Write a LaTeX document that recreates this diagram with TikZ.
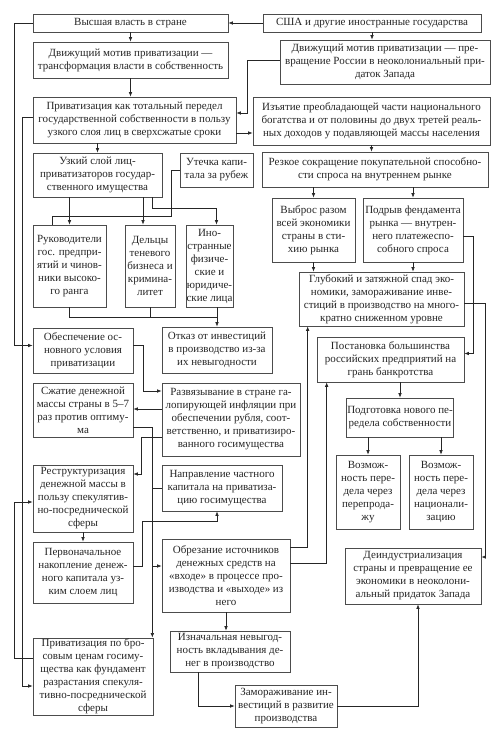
\documentclass[tikz,border=0pt]{standalone}
\usepackage{fontspec}
\setmainfont{Liberation Serif}
\usetikzlibrary{arrows.meta,calc}
\begin{document}
\begin{tikzpicture}[x=1pt,y=-1pt,
  box/.style={draw=black!70, line width=0.7pt, align=center, inner xsep=0.5pt, inner ysep=1pt,
    font=\fontsize{11}{13}\selectfont, text=black!85},
  arr/.style={draw=black!85, line width=0.65pt, -{Latex[length=4.5pt,width=3.6pt]}},
  ln/.style={draw=black!85, line width=0.65pt}]
\useasboundingbox[fill=white] (0,0) rectangle (492,730);

\node[box,minimum width=195pt,minimum height=18pt] (A) at (130.5,23) {Высшая власть в стране};
\node[box,minimum width=218pt,minimum height=18pt] (B) at (372,23) {США и другие иностранные государства};
\node[box,minimum width=195pt,minimum height=36pt] (C) at (130.5,60) {Движущий мотив приватизации —\\трансформация власти в собственность};
\node[box,minimum width=210pt,minimum height=44pt] (D) at (385,62) {Движущий мотив приватизации — пре-\\вращение России в неоколониальный при-\\даток Запада};
\node[box,minimum width=203pt,minimum height=46pt] (E) at (134.5,120) {Приватизация как тотальный передел\\государственной собственности в пользу\\узкого слоя лиц в сверхсжатые сроки};
\node[box,minimum width=237pt,minimum height=48pt] (F) at (371.5,121) {Изъятие преобладающей части национального\\богатства и от половины до двух третей реаль-\\ных доходов у подавляющей массы населения};
\node[box,minimum width=129pt,minimum height=44pt] (G) at (97.5,175) {Узкий слой лиц-\\приватизаторов государ-\\ственного имущества};
\node[box,minimum width=73pt,minimum height=34pt] (H) at (216.5,170) {Утечка капи-\\тала за рубеж};
\node[box,minimum width=226pt,minimum height=35pt] (I) at (375,169.5) {Резкое сокращение покупательной способно-\\сти спроса на внутреннем рынке};
\node[box,minimum width=73pt,minimum height=82pt] (J) at (69.5,266) {Руководители\\гос. предпри-\\ятий и чинов-\\ники высоко-\\го ранга};
\node[box,minimum width=50pt,minimum height=82pt] (K) at (150,266) {Дельцы\\теневого\\бизнеса и\\кримина-\\литет};
\node[box,minimum width=43pt,minimum height=82pt] (L) at (209.5,266) {Ино-\\странные\\физиче-\\ские и\\юридиче-\\ские лица};
\node[box,minimum width=83pt,minimum height=64pt] (M) at (313.5,230) {Выброс разом\\всей экономики\\страны в сти-\\хию рынка};
\node[box,minimum width=100pt,minimum height=64pt] (N) at (413,230) {Подрыв фендамента\\рынка — внутрен-\\него платежеспо-\\собного спроса};
\node[box,minimum width=165pt,minimum height=54pt] (O) at (381.5,299) {Глубокий и затяжной спад эко-\\номики, замораживание инве-\\стиций в производство на много-\\кратно сниженном уровне};
\node[box,minimum width=100pt,minimum height=45pt] (P) at (83,350.5) {Обеспечение ос-\\новного условия\\приватизации};
\node[box,minimum width=110pt,minimum height=46pt] (Q) at (217,350) {Отказ от инвестиций\\в производство из-за\\их невыгодности};
\node[box,minimum width=147pt,minimum height=45pt] (R) at (390.5,359.5) {Постановка большинства\\российских предприятий на\\грань банкротства};
\node[box,minimum width=100pt,minimum height=54pt] (S) at (83,410) {Сжатие денежной\\массы страны в 5–7\\раз против оптиму-\\ма};
\node[box,minimum width=138pt,minimum height=73pt] (T) at (231,419.5) {Развязывание в стране га-\\лопирующей инфляции при\\обеспечении рубля, соот-\\ветственно, и приватизиро-\\ванного госимущества};
\node[box,minimum width=106pt,minimum height=39pt] (U) at (400,417.5) {Подготовка нового пе-\\редела собственности};
\node[box,minimum width=64pt,minimum height=74pt] (V) at (368,492) {Возмож-\\ность пере-\\дела через\\перепрода-\\жу};
\node[box,minimum width=64pt,minimum height=74pt] (W) at (441,492) {Возмож-\\ность пере-\\дела через\\национали-\\зацию};
\node[box,minimum width=100pt,minimum height=67pt] (X) at (83,498.5) {Реструктуризация\\денежной массы в\\пользу спекулятив-\\но-посреднической\\сферы};
\node[box,minimum width=120pt,minimum height=46pt] (Y) at (222,488) {Направление частного\\капитала на приватиза-\\цию госимущества};
\node[box,minimum width=100pt,minimum height=61pt] (Z) at (83,572.5) {Первоначальное\\накопление денеж-\\ного капитала уз-\\ким слоем лиц};
\node[box,minimum width=128pt,minimum height=73pt] (AA) at (226,575.5) {Обрезание источников\\денежных средств на\\«входе» в процессе про-\\изводства и «выходе» из\\него};
\node[box,minimum width=136pt,minimum height=56pt] (AB) at (413,576) {Деиндустриализация\\страны и превращение ее\\экономики в неоколони-\\альный придаток Запада};
\node[box,minimum width=120pt,minimum height=41pt] (AC) at (230,651.5) {Изначальная невыгод-\\ность вкладывания де-\\нег в производство};
\node[box,minimum width=120pt,minimum height=73pt] (AD) at (93,676.5) {Приватизация по бро-\\совым ценам госиму-\\щества как фундамент\\разрастания спекуля-\\тивно-посреднической\\сферы};
\node[box,minimum width=102pt,minimum height=42pt] (AE) at (286,706) {Замораживание ин-\\вестиций в развитие\\производства};

% top
\draw[arr] (B.west) -- (A.east);
\draw[arr] (A.west) -- ++(-18,0) |- ([yshift=5pt]P.west);
\draw[arr] (A.south) -- (C.north);
\draw[arr] (B.south) -- (B.south |- D.north);
\draw[arr] ([yshift=2pt]D.west) -- ++(-32,0) |- ([yshift=7pt]E.east);
\draw[arr] (C.south) -- (C.south |- E.north);
\coordinate (e1) at ($(E.east)+(0,13)$);
\draw[arr] (e1) -- (e1 -| F.west);
\draw[arr] (F.south) -- (F.south |- I.north);
\draw[arr] (E.south -| G.north) -- (G.north);
% narrow layer
\draw[arr] (G.south -| J.north) -- (J.north);
\coordinate (k1) at ([xshift=-7pt]K.north);
\draw[arr] (k1 |- G.south) -- (k1);
\draw[arr] ([xshift=-10pt]G.south east) -- ++(0,11) -| ([xshift=7pt]L.north);
\draw[ln] (H.west) -- ++(-8,0) -- ++(0,46) -| ([xshift=-17.5pt]J.north);
\coordinate (j1) at ($(J.south)+(0,10)$);
\draw[ln] (J.south) -- (j1) -- (j1 -| Q.north);
\draw[ln] (K.south) -- (K.south |- j1);
\draw[arr] (Q.north |- L.south) -- (Q.north);
% right column
\draw[arr] (I.south -| M.north) -- (M.north);
\draw[arr] (I.south -| N.north) -- (N.north);
\draw[arr] (M.south) -- (M.south |- O.north);
\draw[arr] (N.south) -- (N.south |- O.north);
\draw[arr] ([yshift=-6pt]N.east) -- ++(10,0) |- ([yshift=6pt]R.east);
\draw[arr] ([yshift=-4pt]O.east) -- ++(21,0) |- ([yshift=19pt]AB.east);
\draw[arr] (U.north |- R.south) -- (U.north);
\draw[arr] (V.north |- U.south) -- (V.north);
\draw[arr] (W.north |- U.south) -- (W.north);
\draw[arr] (AE.east) -| ([xshift=5pt]AB.south);
\coordinate (o1) at ($(O.south west)+(9,0)$);
\coordinate (r1) at ($(R.south west)+(10,0)$);
\draw[arr] ([yshift=28.5pt]AA.east) -| (o1);
\draw[arr] ([yshift=12.5pt]AA.east) -| (r1);
% middle column
\draw[arr] ([yshift=5pt]P.east) -- ++(10,0) |- ([yshift=28.5pt]T.west);
\coordinate (t1) at ([yshift=10.5pt]T.west);
\draw[arr] (t1) -- (t1 -| S.east);
\coordinate (v1) at ([xshift=-1pt]AD.north east);
\draw[arr] ([yshift=-17pt]S.east) -| (v1);
\draw[ln] (v1 |- Y.west) -- (Y.west);
\coordinate (a1) at ([yshift=9.5pt]AA.west);
\draw[arr] (v1 |- a1) -- (a1);
\draw[arr] ([yshift=-17.5pt]T.west) -- ++(-20,0) |- ([yshift=24.5pt]X.east);
\draw[arr] ([yshift=6.5pt]Z.east) -- ++(9,0) -- ++(0,-45) -| ([xshift=-5pt]Y.south);
\draw[arr] (X.south) -- (X.south |- Z.north);
\draw[arr] (AA.south) -- (AA.south |- AC.north);
\draw[arr] ([xshift=-32pt]AC.south) |- (AE.west);
% left rails
\draw[arr] ([yshift=3pt]E.west) -- ++(-10,0) |- ([yshift=-9.5pt]AD.west);
\draw[arr] ([yshift=18.5pt]AD.west) -- ++(-18,0) |- ([yshift=-3.5pt]X.west);
\end{tikzpicture}
\end{document}
